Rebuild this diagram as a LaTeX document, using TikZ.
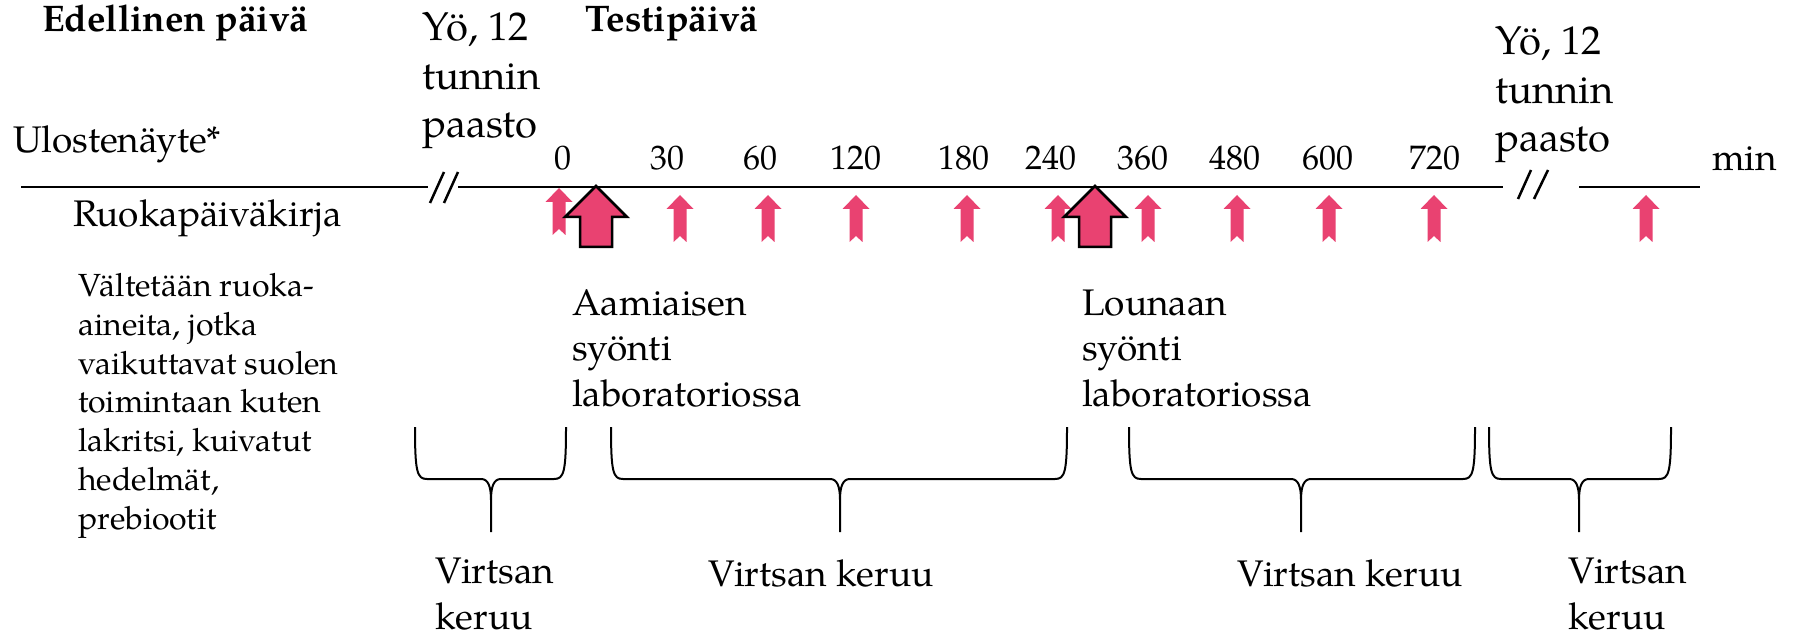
\documentclass[tikz,border=0pt]{standalone}
\usepackage{fontspec}
\setmainfont{TeX Gyre Pagella}
\definecolor{pinkc}{HTML}{E94271}
\tikzset{
  txt/.style={inner sep=0pt, anchor=base west, align=left, font=\fontsize{37}{45.5}\selectfont},
  boldtxt/.style={inner sep=0pt, anchor=base west, font=\bfseries\fontsize{37}{44}\selectfont},
  bigtxt/.style={inner sep=0pt, anchor=base west, align=left, font=\fontsize{40}{48.5}\selectfont},
  partxt/.style={inner sep=0pt, anchor=base west, align=left, font=\fontsize{32}{38.7}\selectfont},
  ticklbl/.style={inner sep=0pt, anchor=base, font=\fontsize{34}{40}\selectfont},
  tl/.style={line width=2.5pt, black},
  br/.style={line width=2pt, black},
  smallup/.pic={\fill[pinkc] (0,0) -- (13.5,14) -- (6.5,14) -- (6.5,47) -- (0,41) -- (-6.5,47) -- (-6.5,14) -- (-13.5,14) -- cycle;},
  bigup/.pic={\draw[line width=2.5pt, fill=pinkc, line join=miter] (0,0) -- (31,31) -- (16,31) -- (16,61) -- (-16,61) -- (-16,31) -- (-31,31) -- cycle;},
  pics/brace/.style n args={3}{code={
    \draw[br] (#1,427) .. controls (#1,472) and ({#1+2},479) .. ({#1+12},479)
      -- ({#2-10},479) .. controls ({#2-3},479) and (#2,486) .. (#2,500) -- (#2,532)
      -- (#2,500) .. controls (#2,486) and ({#2+3},479) .. ({#2+10},479)
      -- ({#3-12},479) .. controls ({#3-2},479) and (#3,472) .. (#3,427);
  }}
}
\begin{document}
\begin{tikzpicture}[x=1pt,y=-1pt]
\fill[white] (0,0) rectangle (1793,636);
\useasboundingbox (0,0) rectangle (1793,636);

% timeline
\coordinate (l0) at (21,187);
\coordinate (l1) at (428,187);
\coordinate (m0) at (458,187);
\coordinate (m1) at (1503,187);
\coordinate (r0) at (1579,187);
\coordinate (r1) at (1700,187);
\draw[tl] (l0) -- (l1);
\draw[tl] (m0) -- (m1);
\draw[tl] (r0) -- (r1);
% breaks
\draw[tl] (430,203) -- (444,172);
\draw[tl] (444,203) -- (458,172);
\draw[tl] (1518,199) -- (1531,170);
\draw[tl] (1534,199) -- (1548,170);

% texts (base anchor = baseline of the last line)
\node[boldtxt] (ed) at (42,32) {Edellinen päivä};
\node[boldtxt] (tp) at (585,32) {Testipäivä};
\node[bigtxt] (yo1) at (422,138) {Yö, 12\\tunnin\\paasto};
\node[bigtxt] (yo2) at (1495,152) {Yö, 12\\tunnin\\paasto};
\node[txt] (ul) at (13,153) {Ulostenäyte*};
\node[txt] (rk) at (73,227) {Ruokapäiväkirja};
\node[partxt] (va) at (78,529) {Vältetään ruoka-\\aineita, jotka\\vaikuttavat suolen\\toimintaan kuten\\lakritsi, kuivatut\\hedelmät,\\prebiootit};
\node[txt] (aa) at (572,406) {Aamiaisen\\syönti\\laboratoriossa};
\node[txt] (lo) at (1082,406) {Lounaan\\syönti\\laboratoriossa};
\node[txt] (v1) at (435,629) {Virtsan\\keruu};
\node[txt] (v2) at (708,586) {Virtsan keruu};
\node[txt] (v3) at (1237,586) {Virtsan keruu};
\node[txt] (v4) at (1568,629) {Virtsan\\keruu};
\node[txt] (min) at (1712,171) {min};

% tick labels
\node[ticklbl] (t0) at (563,170) {0};
\node[ticklbl] (t30) at (667,170) {30};
\node[ticklbl] (t60) at (760,170) {60};
\node[ticklbl] (t120) at (856,170) {120};
\node[ticklbl] (t180) at (964,170) {180};
\node[ticklbl] (t240) at (1051,170) {240};
\node[ticklbl] (t360) at (1143,170) {360};
\node[ticklbl] (t480) at (1235,170) {480};
\node[ticklbl] (t600) at (1328,170) {600};
\node[ticklbl] (t720) at (1435,170) {720};

% sampling arrows
\pic at (559,188) {smallup};
\foreach \x in {680,768,856,967,1058,1148,1237,1329,1434,1646}
  \pic at (\x,195) {smallup};
% meal arrows
\pic at (596,186) {bigup};
\pic at (1095,186) {bigup};

% braces
\pic {brace={415}{491}{566}};
\pic {brace={611}{840}{1067}};
\pic {brace={1129}{1301}{1475}};
\pic {brace={1489}{1579}{1671}};
\end{tikzpicture}
\end{document}
